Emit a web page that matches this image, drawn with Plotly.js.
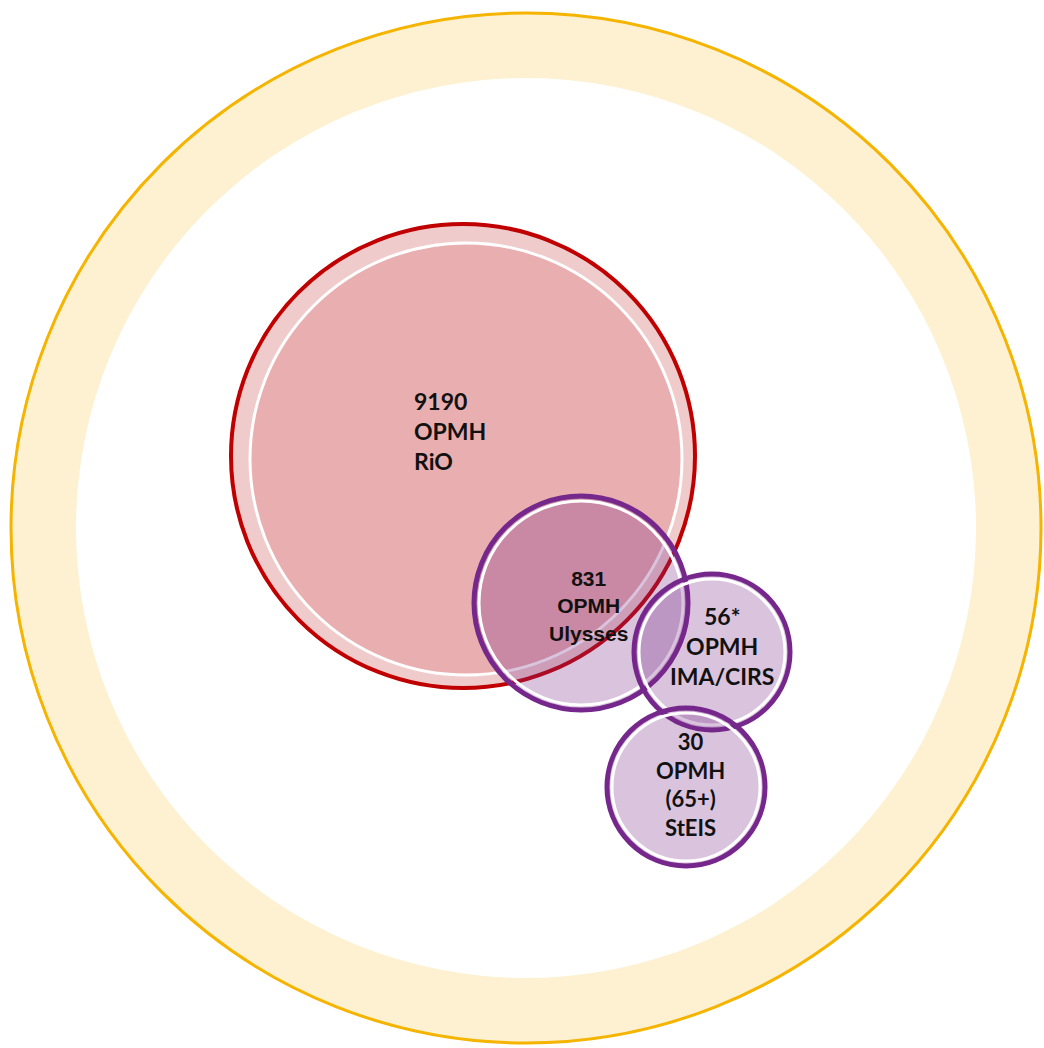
<!DOCTYPE html>
<html>
<head>
<meta charset="utf-8">
<script src="https://cdn.plot.ly/plotly-3.0.1.min.js"></script>
<style>
  html, body { margin: 0; padding: 0; background: #fff; }
  #chart { width: 1044px; height: 1048px; }
</style>
</head>
<body>
<div id="chart"></div>
<script>
// counts and names for each source
const counts = ['9190', '831', '56*', '30'];
const unitName = 'OPMH';
const sources = ['RiO', 'Ulysses', 'IMA/CIRS', '(65+)<br>StEIS'];

// layout of the circles (pixel space of the picture)
const centresX = [463, 581, 712, 686];
const centresY = [456, 603, 652, 787];
const radii = [232, 107, 78, 79];

document.addEventListener('DOMContentLoaded', function () {
    const shapes = [];

    function circle(cx, cy, r, fill, lineColor, lineWidth) {
        shapes.push({
            type: 'circle', xref: 'x', yref: 'y', layer: 'above',
            x0: cx - r, x1: cx + r, y0: cy - r, y1: cy + r,
            fillcolor: fill,
            line: {color: lineColor, width: lineWidth}
        });
    }

    // outer population ring
    circle(526, 528, 515, '#fdf1d2', '#f5b400', 3);
    circle(526, 528, 450, '#ffffff', 'rgba(0,0,0,0)', 0);

    // RiO
    circle(centresX[0], centresY[0], radii[0], '#f0cbcb', '#c00000', 4);
    circle(centresX[0] + 3, centresY[0] + 3, radii[0] - 16, '#e9afb0', '#ffffff', 3);

    // purple sets
    for (let i = 1; i < counts.length; i++) {
        circle(centresX[i], centresY[i], radii[i], 'rgba(119,41,134,0.28)', '#76278c', 5);
        circle(centresX[i], centresY[i], radii[i] - 5, 'rgba(0,0,0,0)', '#ffffff', 3);
    }

    const annotations = [
        {
            x: 412, y: 431, xanchor: 'left', align: 'left',
            text: '<b>' + counts[0] + '<br>' + unitName + '<br>' + sources[0] + '</b>',
            font: {family: 'Lato, "Open Sans", sans-serif', size: 23, color: '#111'}
        },
        {
            x: 588, y: 606, xanchor: 'center', align: 'center',
            text: '<b>' + counts[1] + '<br>' + unitName + '<br>' + sources[1] + '</b>',
            font: {family: '"Liberation Sans", Arial, sans-serif', size: 21, color: '#111'}
        },
        {
            x: 722, y: 646, xanchor: 'center', align: 'center',
            text: '<b>' + counts[2] + '<br>' + unitName + '<br>' + sources[2] + '</b>',
            font: {family: 'Lato, "Open Sans", sans-serif', size: 23, color: '#111'}
        },
        {
            x: 690, y: 784, xanchor: 'center', align: 'center',
            text: '<b>' + counts[3] + '<br>' + unitName + '<br>' + sources[3] + '</b>',
            font: {family: 'Lato, "Open Sans", sans-serif', size: 22, color: '#111'}
        }
    ].map(a => Object.assign({xref: 'x', yref: 'y', yanchor: 'middle', showarrow: false}, a));

    const layout = {
        width: 1044, height: 1048,
        margin: {l: 0, r: 0, t: 0, b: 0},
        paper_bgcolor: '#ffffff', plot_bgcolor: '#ffffff',
        xaxis: {range: [0, 1044], visible: false, fixedrange: true},
        yaxis: {range: [1048, 0], visible: false, fixedrange: true},
        showlegend: false,
        shapes: shapes,
        annotations: annotations
    };

    Plotly.newPlot('chart', [{x: [], y: [], type: 'scatter', hoverinfo: 'skip'}], layout, {staticPlot: true});
});
</script>
</body>
</html>
